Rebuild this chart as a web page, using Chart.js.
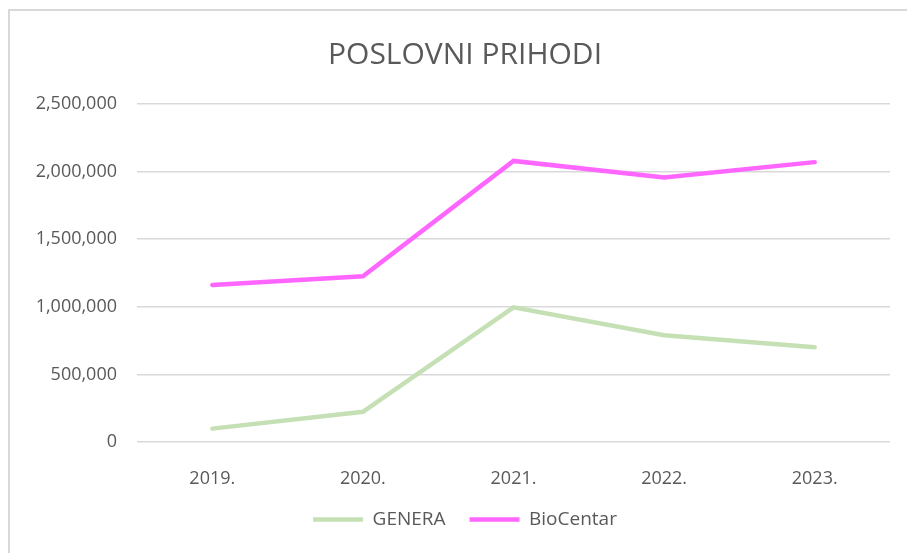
<!DOCTYPE html>
<html>
<head>
<meta charset="utf-8">
<title>Poslovni prihodi</title>
<script src="https://cdn.jsdelivr.net/npm/chart.js@4.4.1/dist/chart.umd.min.js"></script>
<style>
  body { margin: 0; background: #fff; }
  #okvir { position: absolute; left: 8px; top: 9px; width: 1000px; height: 1000px; border: 2px solid #d9d9d9; }
  #graf { position: absolute; left: 0; top: 0; }
</style>
</head>
<body>
<div id="okvir"></div>
<canvas id="graf" width="907" height="553"></canvas>
<script>
const godine = ['2019.', '2020.', '2021.', '2022.', '2023.'];
const genera = [99000, 223000, 996000, 790000, 700000];
const bioCentar = [1162000, 1226000, 2079000, 1956000, 2070000];
const yTicks = [0, 500000, 1000000, 1500000, 2000000, 2500000];

const sivo = '#595959';
const font = 'Open Sans';

// naslov i legenda su u originalu malo udesno od sredine platna
const pomak = {
  id: 'pomak',
  afterLayout(chart) {
    [chart.titleBlock, chart.legend].forEach(b => {
      b.left += 20;
      b.right += 20;
    });
  }
};

const ctx = document.getElementById('graf').getContext('2d');
new Chart(ctx, {
  type: 'line',
  data: {
    labels: godine,
    datasets: [
      {
        label: 'GENERA',
        data: genera,
        borderColor: '#c5e0b4',
        backgroundColor: '#c5e0b4',
        borderWidth: 4.5,
        borderCapStyle: 'round',
        pointRadius: 0,
        tension: 0
      },
      {
        label: 'BioCentar',
        data: bioCentar,
        borderColor: '#ff66ff',
        backgroundColor: '#ff66ff',
        borderWidth: 4.5,
        borderCapStyle: 'round',
        pointRadius: 0,
        tension: 0
      }
    ]
  },
  options: {
    responsive: false,
    animation: false,
    layout: { padding: { left: 0, right: 17, top: 0, bottom: 14 } },
    plugins: {
      title: {
        display: true,
        text: 'POSLOVNI PRIHODI',
        color: sivo,
        font: { family: font, size: 30, weight: 'normal' },
        padding: { top: 37, bottom: 31 }
      },
      legend: {
        position: 'bottom',
        labels: {
          color: sivo,
          font: { family: font, size: 19 },
          usePointStyle: true,
          pointStyle: 'line',
          pointStyleWidth: 50,
          boxHeight: 5,
          padding: 24
        }
      },
      tooltip: { enabled: false }
    },
    scales: {
      x: {
        offset: true,
        grid: { display: false },
        border: { display: false },
        ticks: { color: sivo, font: { family: font, size: 18 }, padding: 18 },
        afterFit: s => { s.height = 44; }
      },
      y: {
        min: 0,
        max: 2500000,
        afterBuildTicks: s => { s.ticks = yTicks.map(v => ({ value: v })); },
        grid: { color: '#d9d9d9', lineWidth: 1.5, drawTicks: false },
        border: { display: false },
        ticks: {
          color: sivo,
          font: { family: font, size: 18 },
          padding: 20,
          callback: v => v.toLocaleString('en-US')
        },
        afterFit: s => { s.width = 137; }
      }
    }
  },
  plugins: [pomak]
});
</script>
</body>
</html>
